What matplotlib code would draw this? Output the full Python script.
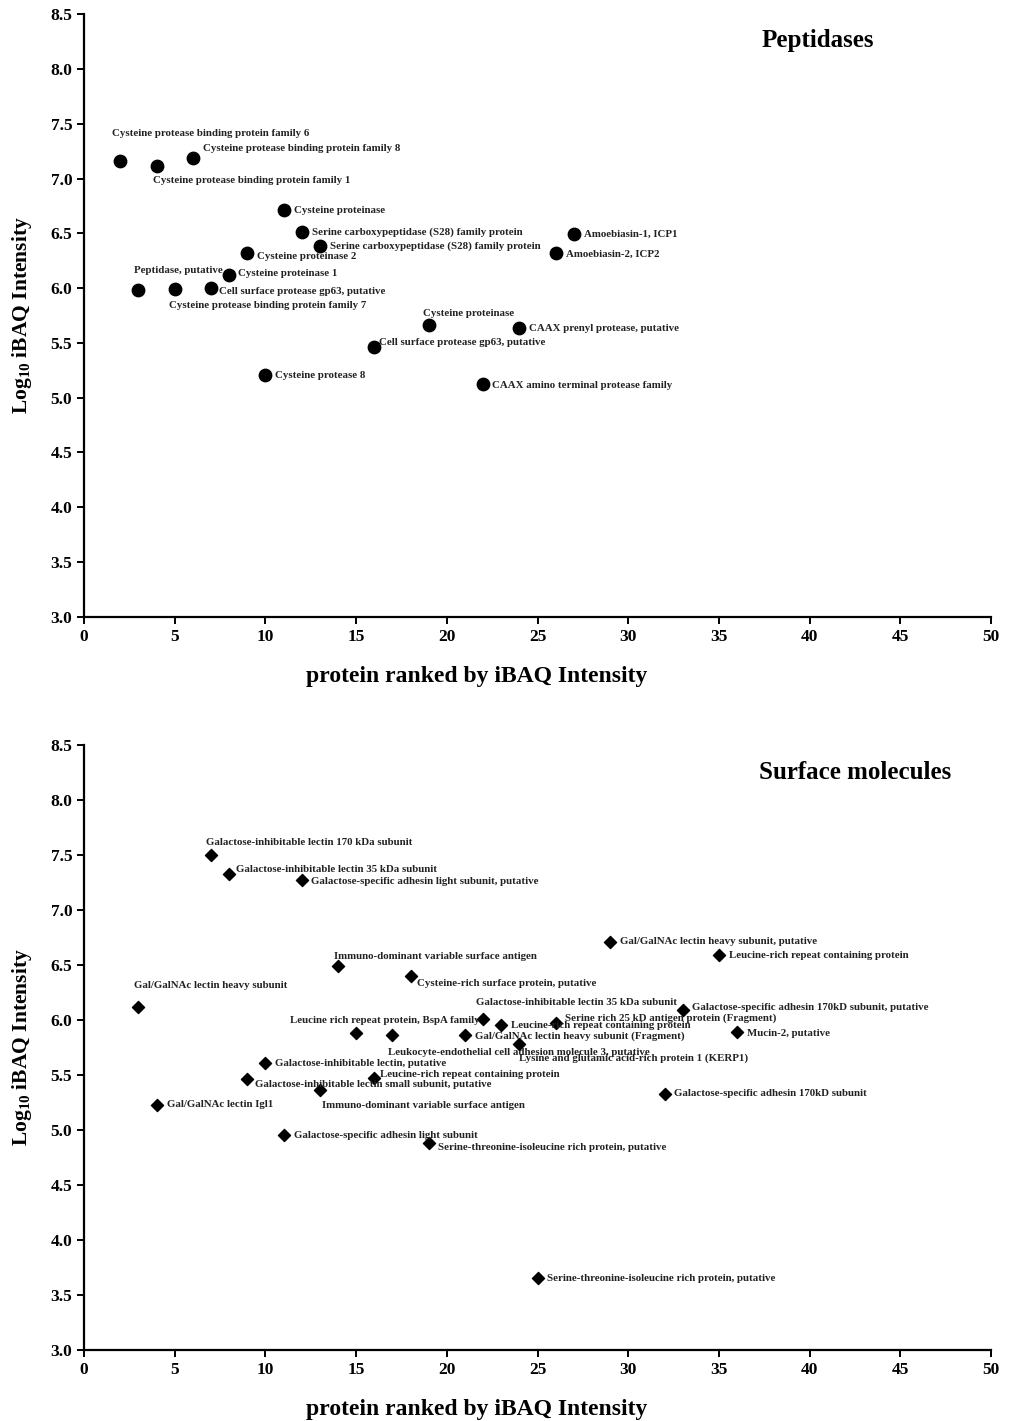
import matplotlib.pyplot as plt

plt.rcParams['font.family'] = 'Liberation Serif'
plt.rcParams['font.weight'] = 'bold'
plt.rcParams['mathtext.default'] = 'regular'

# Peptidases: rank, log10 iBAQ, name
pep_rank = [2, 4, 6, 11, 12, 13, 9, 8, 3, 5, 7, 19, 24, 16, 10, 22, 27, 26]
pep_val = [7.16, 7.11, 7.19, 6.71, 6.51, 6.38, 6.32, 6.12, 5.98, 5.99, 6.00,
           5.66, 5.64, 5.46, 5.21, 5.12, 6.49, 6.32]
pep_names = [
    "Cysteine protease binding protein family 6",
    "Cysteine protease binding protein family 1",
    "Cysteine protease binding protein family 8",
    "Cysteine proteinase",
    "Serine carboxypeptidase (S28) family protein",
    "Serine carboxypeptidase (S28) family protein",
    "Cysteine proteinase 2",
    "Cysteine proteinase 1",
    "Peptidase, putative",
    "Cysteine protease binding protein family 7",
    "Cell surface protease gp63, putative",
    "Cysteine proteinase",
    "CAAX prenyl protease, putative",
    "Cell surface protease gp63, putative",
    "Cysteine protease 8",
    "CAAX amino terminal protease family",
    "Amoebiasin-1, ICP1",
    "Amoebiasin-2, ICP2",
]

# Surface molecules: rank, log10 iBAQ, name
surf_rank = [7, 8, 12, 14, 18, 3, 29, 35, 33, 22, 26, 23, 15, 17, 21, 24, 36,
             10, 9, 16, 13, 4, 32, 11, 19, 25]
surf_val = [7.50, 7.33, 7.27, 6.49, 6.40, 6.12, 6.71, 6.59, 6.09, 6.01, 5.97,
            5.95, 5.88, 5.86, 5.86, 5.78, 5.89, 5.61, 5.46, 5.47, 5.36, 5.23,
            5.33, 4.95, 4.88, 3.65]
surf_names = [
    "Galactose-inhibitable lectin 170 kDa subunit",
    "Galactose-inhibitable lectin 35 kDa subunit",
    "Galactose-specific adhesin light subunit, putative",
    "Immuno-dominant variable surface antigen",
    "Cysteine-rich surface protein, putative",
    "Gal/GalNAc lectin heavy subunit",
    "Gal/GalNAc lectin heavy subunit, putative",
    "Leucine-rich repeat containing protein",
    "Galactose-specific adhesin 170kD subunit, putative",
    "Galactose-inhibitable lectin 35 kDa subunit",
    "Serine rich 25 kD antigen protein (Fragment)",
    "Leucine-rich repeat containing protein",
    "Leucine rich repeat protein, BspA family",
    "Leukocyte-endothelial cell adhesion molecule 3, putative",
    "Gal/GalNAc lectin heavy subunit (Fragment)",
    "Lysine and glutamic acid-rich protein 1 (KERP1)",
    "Mucin-2, putative",
    "Galactose-inhibitable lectin, putative",
    "Galactose-inhibitable lectin small subunit, putative",
    "Leucine-rich repeat containing protein",
    "Immuno-dominant variable surface antigen",
    "Gal/GalNAc lectin Igl1",
    "Galactose-specific adhesin 170kD subunit",
    "Galactose-specific adhesin light subunit",
    "Serine-threonine-isoleucine rich protein, putative",
    "Serine-threonine-isoleucine rich protein, putative",
]

# desplazamiento de cada etiqueta en pixeles (dx, dy) respecto al marcador
pep_off = [(-8, 28), (-4, -14), (10, 9), (10, 0), (10, 0), (10, 0), (10, -3),
           (9, 1), (-4, 20), (-6, -16), (8, -3), (-6, 12), (10, -1), (5, 5),
           (10, -1), (9, -1), (10, 0), (10, -1)]
surf_off = [(-5, 13), (7, 4), (9, -1), (-4, 10), (6, -8), (-4, 21), (10, 0),
            (10, 0), (9, 3), (-7, 16), (9, 5), (10, 0), (-66, 13), (-4, -17),
            (10, -1), (0, -14), (10, -1), (10, -1), (8, -5), (6, 4), (2, -15),
            (10, 0), (9, 0), (10, 0), (9, -4), (9, 0)]


def dibujar(ax, xs, ys, names, offs, marker, size, title, title_pos):
    ax.scatter(xs, ys, marker=marker, s=size, color='black', zorder=3)
    for x, y, name, (dx, dy) in zip(xs, ys, names, offs):
        ax.annotate(name, (x, y), xytext=(dx, dy), textcoords='offset pixels',
                    ha='left', va='center', fontsize=7.8, fontweight='bold',
                    color='#222222')
    ax.set_xlim(0, 50)
    ax.set_ylim(3.0, 8.5)
    ax.set_xticks(range(0, 51, 5))
    ax.set_yticks([3.0 + 0.5 * i for i in range(12)])
    ax.set_yticklabels([f"{3.0 + 0.5 * i:.1f}" for i in range(12)])
    for s in ['top', 'right']:
        ax.spines[s].set_visible(False)
    for s in ['left', 'bottom']:
        ax.spines[s].set_linewidth(1.6)
    ax.tick_params(direction='out', length=5, width=1.4, labelsize=12.5)
    for lab in ax.get_xticklabels() + ax.get_yticklabels():
        lab.set_fontweight('bold')
    ax.set_xlabel("protein ranked by iBAQ Intensity", fontsize=17,
                  fontweight='bold', va='center')
    ax.xaxis.set_label_coords(0.433, -0.099)
    ax.set_ylabel(r"Log$_{10}$ iBAQ Intensity", fontsize=15.5,
                  fontweight='bold', labelpad=12)
    ax.text(title_pos[0], title_pos[1], title, transform=ax.transAxes,
            ha='center', va='center', fontsize=18, fontweight='bold')


fig = plt.figure(figsize=(10.09, 14.21), dpi=100)
ax1 = fig.add_axes([0.0833, 0.566, 0.8989, 0.424])
ax2 = fig.add_axes([0.0833, 0.050, 0.8989, 0.4257])

dibujar(ax1, pep_rank, pep_val, pep_names, pep_off, 'o', 80, "Peptidases",
        (0.809, 0.957))
dibujar(ax2, surf_rank, surf_val, surf_names, surf_off, 'D', 38,
        "Surface molecules", (0.850, 0.955))

fig.savefig("out.png", dpi=100)
